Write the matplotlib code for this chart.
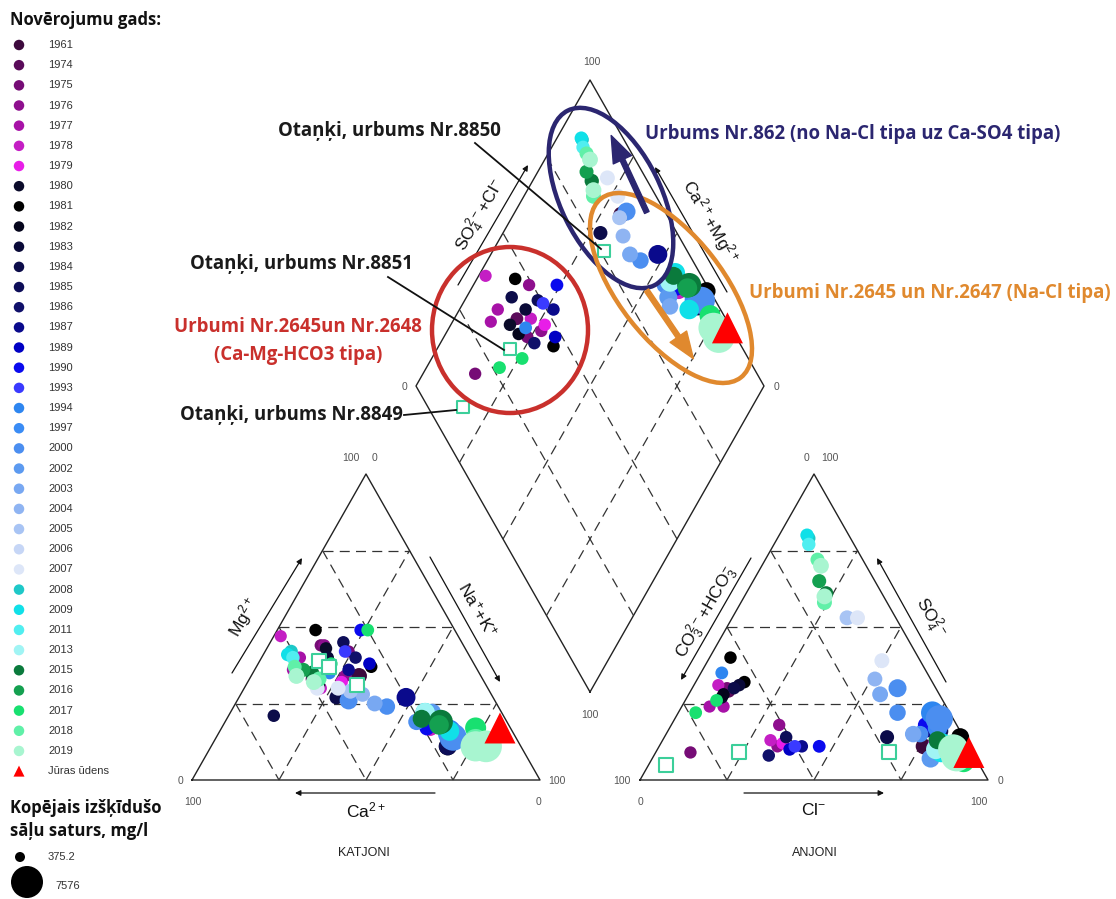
import matplotlib.pyplot as plt
from matplotlib.patches import Ellipse, FancyArrowPatch
import numpy as np

plt.rcParams['font.family'] = ['Liberation Sans', 'DejaVu Sans']
plt.rcParams['mathtext.default'] = 'regular'

# legend years and their colours
years = [1961, 1974, 1975, 1976, 1977, 1978, 1979, 1980, 1981, 1982, 1983, 1984,
         1985, 1986, 1987, 1989, 1990, 1993, 1994, 1997, 2000, 2002, 2003, 2004,
         2005, 2006, 2007, 2008, 2009, 2011, 2013, 2015, 2016, 2017, 2018, 2019]
year_colors = ['#3d0a3d', '#5a0b5a', '#760c76', '#8e0f8e', '#a712a7', '#c41ec4', '#e81ee8',
               '#0b0b2a', '#000000', '#05051c', '#0a0a38', '#0c0c4a', '#0d0d58', '#10106a',
               '#0a0a8c', '#0000c4', '#0a0aee', '#3a3aff', '#2e86f0', '#3a8cf5', '#4b8ef0',
               '#5c9af0', '#78a8f2', '#8fb4f2', '#a8c4f4', '#c6d6f6', '#dde6f8', '#1ec8c8',
               '#10e0e8', '#50eef0', '#a0f4f4', '#0a7a3c', '#14a050', '#18e070', '#60f0a8',
               '#a8f5d0']

# samples: year, TDS (mg/l), cations % (Ca, Mg, Na+K), anions % (HCO3+CO3, SO4, Cl)
s_year = [1978, 1981, 1976, 1990, 1984, 1985, 1993, 1987, 1983, 1977, 1974, 1977, 1978,
          1980, 1994, 1979, 1976, 1982, 1975, 1989, 1986, 1981, 2017, 2017, 1975,
          2009, 2015, 2000, 2015, 1978, 1981, 2000, 2009, 2017, 2019, 2019, 1990, 1994,
          2003, 2002, 1985, 2013, 2016, 1997, 2018,
          2009, 2011, 2008, 2018, 2019, 2016, 2015, 2019, 2018, 2007, 2005,
          1961, 2000, 1984, 2003, 2000, 1987, 2004, 2007]
s_tds = [600, 700, 650, 800, 700, 700, 750, 700, 700, 650, 800, 600, 650,
         700, 800, 700, 650, 700, 650, 750, 700, 700, 800, 800, 650,
         3000, 2500, 2000, 4500, 1800, 2500, 5500, 3000, 3500, 6500, 7000, 1500, 4000,
         2000, 2500, 2500, 3000, 3000, 3000, 4000,
         1000, 1000, 1000, 1200, 1800, 1200, 1300, 1800, 1500, 1500, 1500,
         1800, 2500, 1200, 1800, 2000, 2800, 1500, 1500]
s_ca = [51, 40, 40, 27, 66, 34, 35, 37, 41, 49, 49, 53, 48, 40, 43, 41, 39, 48, 34, 30,
        33, 30, 25, 41, 41,
        22, 24, 26, 19, 23, 21, 18, 18, 10, 13, 10, 24, 18, 20, 20, 21, 22, 20, 19, 12,
        52, 51, 50.5, 52, 53, 50, 48, 49, 47, 49, 40,
        35, 42, 45, 35, 32, 25, 37, 43]
s_mg = [47, 49, 44, 49, 21, 45, 42, 36, 40, 40, 33, 36, 30, 43, 35, 32, 34, 31, 42, 38,
        40, 37, 49, 38, 44,
        22, 20, 19, 19, 17, 11, 14, 16, 17, 11, 11, 17, 16, 20, 22, 11, 22, 18, 15, 13,
        41, 40, 42, 37, 34, 36, 35, 32, 33, 30, 29,
        34, 26, 27, 25, 24, 27, 28, 30]
s_na = [2, 11, 16, 24, 13, 21, 23, 27, 19, 11, 18, 11, 22, 17, 22, 27, 27, 21, 24, 32,
        27, 33, 26, 21, 15,
        56, 56, 55, 62, 60, 68, 68, 66, 73, 76, 79, 59, 66, 60, 58, 68, 56, 62, 66, 75,
        7, 9, 7.5, 11, 13, 14, 17, 19, 20, 21, 31,
        31, 32, 28, 40, 44, 48, 35, 27]
s_hco3 = [62, 54, 51, 43, 58, 51, 50, 48, 56, 64, 60, 68, 56, 63, 59, 53, 55, 62, 60, 52,
          59, 54, 65, 73, 81,
          7, 8, 12, 5, 9, 1, 4, 9, 4, 5, 5, 9, 5, 14, 13, 6, 10, 6, 6, 5,
          12, 13, 12, 13, 13, 16, 16, 17, 18, 11, 14,
          13, 11, 22, 17, 15, 9, 16, 11]
s_so4 = [31, 40, 18, 11, 30, 14, 11, 11, 31, 24, 29, 24, 13, 27, 35, 12, 11, 28, 30, 10,
         8, 32, 26, 22, 9,
         12, 13, 15, 10, 12, 14, 20, 9, 6, 10, 8, 18, 22, 15, 7, 16, 10, 11, 17, 9,
         80, 77, 79, 72, 70, 65, 61, 60, 58, 53, 53,
         11, 30, 14, 28, 22, 17, 33, 39]
s_cl = [7, 6, 31, 46, 12, 35, 39, 41, 13, 12, 11, 8, 31, 10, 6, 35, 34, 10, 10, 38,
        33, 14, 9, 5, 10,
        81, 79, 73, 85, 79, 85, 76, 82, 90, 85, 87, 73, 73, 71, 80, 78, 80, 83, 77, 86,
        8, 10, 9, 15, 17, 19, 23, 23, 24, 36, 33,
        76, 59, 64, 55, 63, 74, 51, 50]

# Otanki wells (open squares)
w_ca = [44, 42, 37]
w_mg = [39, 37, 31]
w_na = [17, 21, 32]
w_hco3 = [90, 67, 24]
w_so4 = [5, 9, 9]
w_cl = [5, 24, 67]

# sea water
sea_cat = [3, 17, 80]
sea_an = [1, 9, 90]

tds_legend = [375.2, 7576]

# ---- geometry (pixels) ----
S = 348.0
H = 306.0
BASE = 780.0
CAT_L = 192.0
AN_L = 640.0
DB = (590.0, 692.0)


def tern(left, a, b, c):
    # a = bottom-left corner, b = apex, c = bottom-right corner
    a, b, c = np.asarray(a, float), np.asarray(b, float), np.asarray(c, float)
    t = a + b + c
    b, c = b / t, c / t
    return left + (c + b / 2) * S, BASE - b * H


def dia(p, q):
    p, q = np.asarray(p, float), np.asarray(q, float)
    return DB[0] + (p - q) * S / 2, DB[1] - (p + q) * H


def diamond_pts(ca, mg, na, hco3, so4, cl):
    ca, mg, na = np.asarray(ca, float), np.asarray(mg, float), np.asarray(na, float)
    hco3, so4, cl = np.asarray(hco3, float), np.asarray(so4, float), np.asarray(cl, float)
    q = (ca + mg) / (ca + mg + na)
    p = (so4 + cl) / (hco3 + so4 + cl)
    return dia(p, q)


def msize(tds, d0=11.5, span=22):
    d = d0 + (np.asarray(tds, float) - 375.2) / (7576 - 375.2) * span
    return (d * 0.72) ** 2


fig = plt.figure(figsize=(11.16, 8.99), dpi=100)
ax = fig.add_axes([0, 0, 1, 1])
ax.set_xlim(0, 1116)
ax.set_ylim(899, 0)
ax.axis('off')

dash = dict(color='#333333', lw=0.9, ls=(0, (8, 5)), zorder=1)
solid = dict(color='#222222', lw=1.0, zorder=1)

# triangles
for left in (CAT_L, AN_L):
    x, y = tern(left, [1, 0, 0, 1], [0, 1, 0, 0], [0, 0, 1, 0])
    ax.plot(x, y, **solid)
    for f in (0.25, 0.5, 0.75):
        x, y = tern(left, [1 - f, 0], [f, f], [0, 1 - f])
        ax.plot(x, y, **dash)
        x, y = tern(left, [1 - f, 0], [0, 1 - f], [f, f])
        ax.plot(x, y, **dash)
        x, y = tern(left, [f, f], [1 - f, 0], [0, 1 - f])
        ax.plot(x, y, **dash)

# diamond
x, y = dia([0, 1, 1, 0, 0], [0, 0, 1, 1, 0])
ax.plot(x, y, **solid)
for f in (0.25, 0.5, 0.75):
    x, y = dia([f, f], [0, 1])
    ax.plot(x, y, **dash)
    x, y = dia([0, 1], [f, f])
    ax.plot(x, y, **dash)

# data points
order = np.argsort(s_year, kind='stable')
cmap = dict(zip(years, year_colors))
cols = [cmap[s_year[i]] for i in order]
sz = msize(np.asarray(s_tds)[order])


def sel(arr):
    return np.asarray(arr, float)[order]


panels = [tern(CAT_L, sel(s_ca), sel(s_mg), sel(s_na)),
          tern(AN_L, sel(s_hco3), sel(s_so4), sel(s_cl)),
          diamond_pts(sel(s_ca), sel(s_mg), sel(s_na), sel(s_hco3), sel(s_so4), sel(s_cl))]
for px, py in panels:
    ax.scatter(px, py, s=sz, c=cols, edgecolors='none', zorder=3)

wells = [tern(CAT_L, w_ca, w_mg, w_na), tern(AN_L, w_hco3, w_so4, w_cl),
         diamond_pts(w_ca, w_mg, w_na, w_hco3, w_so4, w_cl)]
for (px, py), ms in zip(wells, (110, 90, 70)):
    ax.scatter(px, py, s=ms, marker='s', facecolors='white', edgecolors='#3ccf9a',
               linewidths=1.5, zorder=4)

sea = [tern(CAT_L, *sea_cat), tern(AN_L, *sea_an),
       diamond_pts([sea_cat[0]], [sea_cat[1]], [sea_cat[2]], [sea_an[0]], [sea_an[1]], [sea_an[2]])]
for px, py in sea:
    ax.scatter(px, py, s=(31 * 0.72) ** 2, marker='^', c='#ff0000', edgecolors='none', zorder=5)

# scale labels
num = dict(fontsize=7.5, color='#555555', ha='center', va='center')
for t, xx, yy in [('100', 592, 62), ('0', 404, 387), ('0', 777, 387), ('100', 590, 715),
                  ('100', 351, 458), ('0', 374, 458), ('0', 180, 781), ('100', 193, 802),
                  ('100', 557, 781), ('0', 538, 802),
                  ('0', 806, 458), ('100', 830, 458), ('100', 622, 781), ('0', 640, 802),
                  ('0', 1001, 781), ('100', 979, 802)]:
    ax.text(xx, yy, t, **num)

lab = dict(fontsize=12.5, color='#111111', ha='center', va='center')
ax.text(244, 617, r'Mg$^{2+}$', rotation=60, **lab)
ax.text(478, 610, r'Na$^{+}$+K$^{+}$', rotation=-60, **lab)
ax.text(366, 810, r'Ca$^{2+}$', **lab)
ax.text(706, 612, r'CO$_3^{2-}$+HCO$_3^{-}$', rotation=60, **lab)
ax.text(930, 617, r'SO$_4^{2-}$', rotation=-60, **lab)
ax.text(814, 810, r'Cl$^{-}$', **lab)
ax.text(480, 215, r'SO$_4^{2-}$+Cl$^{-}$', rotation=60, **lab)
ax.text(710, 222, r'Ca$^{2+}$+Mg$^{2+}$', rotation=-60, **lab)
ax.text(364, 853, 'KATJONI', fontsize=9, ha='center', va='center', color='#222222')
ax.text(815, 853, 'ANJONI', fontsize=9, ha='center', va='center', color='#222222')

ap = dict(arrowstyle='-|>', lw=0.9, color='#111111', mutation_scale=8, shrinkA=0, shrinkB=0)
for tail, tip in [((232, 673), (302, 558)), ((430, 557), (500, 682)), ((435, 793), (295, 793)),
                  ((751, 558), (681, 680)), ((946, 682), (877, 558)), ((744, 793), (884, 793)),
                  ((458, 285), (528, 165)), ((727, 292), (655, 167))]:
    ax.annotate('', xy=tip, xytext=tail, arrowprops=ap, zorder=2)

# groups
ax.add_patch(Ellipse((510, 330), 156, 166, angle=0, fill=False, ec='#c9302c', lw=3.2, zorder=6))
ax.add_patch(Ellipse((611, 198), 195, 100, angle=63.7, fill=False, ec='#2b2670', lw=3.2, zorder=6))
ax.add_patch(Ellipse((671, 288), 227, 104, angle=52, fill=False, ec='#e0892e', lw=3.2, zorder=6))
ax.add_patch(FancyArrowPatch((648, 215), (610, 133), arrowstyle='simple,head_width=9,head_length=12,tail_width=2.2',
                             color='#2b2670', mutation_scale=1.6, zorder=7))
ax.add_patch(FancyArrowPatch((645, 288), (695, 361), arrowstyle='simple,head_width=9,head_length=12,tail_width=2.2',
                             color='#e0892e', mutation_scale=1.6, zorder=7))

ann = dict(fontsize=13.4, fontweight='bold', family=['Open Sans', 'DejaVu Sans'], va='center', zorder=8)
ax.text(389, 131, 'Otaņķi, urbums Nr.8850', ha='center', color='#1a1a1a', **ann)
ax.text(301, 264, 'Otaņķi, urbums Nr.8851', ha='center', color='#1a1a1a', **ann)
ax.text(298, 327, 'Urbumi Nr.2645un Nr.2648', ha='center', color='#c9302c', **ann)
ax.text(298, 355, '(Ca-Mg-HCO3 tipa)', ha='center', color='#c9302c', **ann)
ax.text(291, 415, 'Otaņķi, urbums Nr.8849', ha='center', color='#1a1a1a', **ann)
ax.text(645, 134, 'Urbums Nr.862 (no Na-Cl tipa uz Ca-SO4 tipa)', ha='left', color='#2b2670', **ann)
ax.text(749, 293, 'Urbumi Nr.2645 un Nr.2647 (Na-Cl tipa)', ha='left', color='#e0892e', **ann)
for (x0, y0), (x1, y1) in [((475, 143), (601, 249)), ((388, 277), (504, 350)), ((404, 415), (456, 410))]:
    ax.plot([x0, x1], [y0, y1], color='#111111', lw=1.3, zorder=8)

# legend
title = dict(fontsize=12, fontweight='bold', family=['Open Sans', 'DejaVu Sans'],
             ha='left', va='center', color='#111111')
ax.text(10, 20, 'Novērojumu gads:', **title)
ly = 45 + np.arange(len(years) + 1) * 20.17
ax.scatter(np.full(len(years), 19), ly[:-1], s=(10.5 * 0.72) ** 2, c=year_colors, edgecolors='none')
for yr, yy in zip(years, ly[:-1]):
    ax.text(48, yy, str(yr), fontsize=8, ha='left', va='center', color='#333333')
ax.scatter([19], [ly[-1]], s=(11 * 0.72) ** 2, marker='^', c='#ff0000', edgecolors='none')
ax.text(48, ly[-1], 'Jūras ūdens', fontsize=8, ha='left', va='center', color='#333333')

ax.text(10, 808, 'Kopējais izšķīdušo', **title)
ax.text(10, 831, 'sāļu saturs, mg/l', **title)
ax.scatter([20, 27], [857, 882], s=msize(tds_legend, 10, 22), c='black', edgecolors='none')
ax.text(48, 857, '375.2', fontsize=8, ha='left', va='center', color='#333333')
ax.text(55, 886, '7576', fontsize=8, ha='left', va='center', color='#333333')

fig.savefig('out.png', dpi=100)
